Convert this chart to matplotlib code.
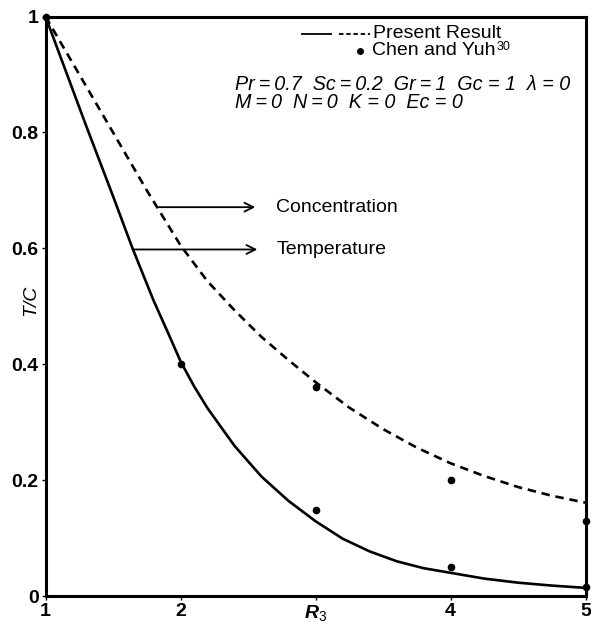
import matplotlib
matplotlib.use("Agg")
import matplotlib.pyplot as plt

plt.rcParams['font.family'] = ['Liberation Sans', 'DejaVu Sans']
plt.rcParams['mathtext.fontset'] = 'custom'
plt.rcParams['mathtext.rm'] = 'Liberation Sans'
plt.rcParams['mathtext.it'] = 'Liberation Sans:italic:bold'
plt.rcParams['mathtext.bf'] = 'Liberation Sans:bold'

# Temperature (solid) - present result
temp_x = [1.0, 1.3, 1.5, 1.641, 1.8, 1.9, 2.0, 2.1, 2.2, 2.4, 2.6, 2.8, 3.0, 3.2, 3.4, 3.6, 3.8, 4.0, 4.25, 4.5, 4.75, 5.0]
temp_y = [1.0, 0.812, 0.69, 0.602, 0.51, 0.458, 0.405, 0.362, 0.324, 0.259, 0.206, 0.164, 0.129, 0.099, 0.077, 0.060, 0.048, 0.040, 0.030, 0.023, 0.018, 0.014]

# Concentration (dashed) - present result
conc_x = [1.0, 1.25, 1.5, 1.75, 2.0, 2.2, 2.4, 2.6, 2.8, 3.0, 3.25, 3.5, 3.75, 4.0, 4.25, 4.5, 4.75, 5.0]
conc_y = [1.0, 0.90, 0.80, 0.70, 0.605, 0.543, 0.493, 0.447, 0.407, 0.369, 0.325, 0.288, 0.256, 0.229, 0.207, 0.188, 0.173, 0.161]

# Chen and Yuh points
ref_x = [1, 2, 3, 3, 4, 4, 5, 5]
ref_y = [1.0, 0.40, 0.36, 0.149, 0.201, 0.05, 0.129, 0.015]

xticks = [1, 2, 3, 4, 5]
xticklabels = ['1', '2', r'$R_3$', '4', '5']
yticks = [0, 0.2, 0.4, 0.6, 0.8, 1]
yticklabels = ['0', '0.2', '0.4', '0.6', '0.8', '1']

fig = plt.figure(figsize=(5.91, 6.26), dpi=100)
ax = fig.add_axes([0.077, 0.0479, 0.914, 0.9257])

ax.plot(temp_x, temp_y, color='black', lw=1.9, solid_joinstyle='round')
ax.plot(conc_x, conc_y, color='black', lw=1.9, linestyle=(0, (3.2, 2.2)))
ax.plot(ref_x, ref_y, 'o', color='black', ms=4.5, clip_on=False, zorder=5)

ax.set_xlim(1, 5)
ax.set_ylim(0, 1)
ax.set_xticks(xticks)
ax.set_xticklabels(xticklabels, fontsize=14, fontweight='bold')
ax.set_yticks(yticks)
ax.set_yticklabels(yticklabels, fontsize=14, fontweight='bold')
ax.tick_params(direction='out', length=3, width=1, pad=2)
for s in ax.spines.values():
    s.set_linewidth(2.2)

ax.set_ylabel('T/C', fontsize=14, style='italic')
ax.yaxis.set_label_coords(-0.012, 0.51)

# Legend drawn as text
ax.plot([2.903, 3.117], [0.9707, 0.9707], color='black', lw=1.3)
ax.plot([3.177, 3.40], [0.9707, 0.9707], color='black', lw=1.3, linestyle=(0, (2.5, 1.5)))
ax.text(3.428, 0.9707, 'Present Result', fontsize=14, va='center', ha='left')
ax.plot([3.332], [0.941], 'o', color='black', ms=4)
ax.text(3.421, 0.941, 'Chen and Yuh', fontsize=14, va='center', ha='left')
ax.text(4.34, 0.947, '30', fontsize=9, va='center', ha='left')

ts = '\u2009'
ax.text(2.40, 0.883, f'Pr{ts}={ts}0.7  Sc{ts}={ts}0.2  Gr{ts}={ts}1  Gc = 1  λ = 0', fontsize=14.2,
        style='italic', va='center', ha='left')
ax.text(2.40, 0.852, f'M{ts}={ts}0  N{ts}={ts}0  K = 0  Ec = 0', fontsize=14.2,
        style='italic', va='center', ha='left')

# Arrows with labels
ax.annotate('', xy=(2.574, 0.671), xytext=(1.813, 0.671),
            arrowprops=dict(arrowstyle='->', lw=1.3, color='black', mutation_scale=16))
ax.text(2.71, 0.671, 'Concentration', fontsize=14, va='center', ha='left')
ax.annotate('', xy=(2.589, 0.598), xytext=(1.636, 0.598),
            arrowprops=dict(arrowstyle='->', lw=1.3, color='black', mutation_scale=16))
ax.text(2.71, 0.598, 'Temperature', fontsize=14, va='center', ha='left')

fig.savefig('out.png', dpi=100)
